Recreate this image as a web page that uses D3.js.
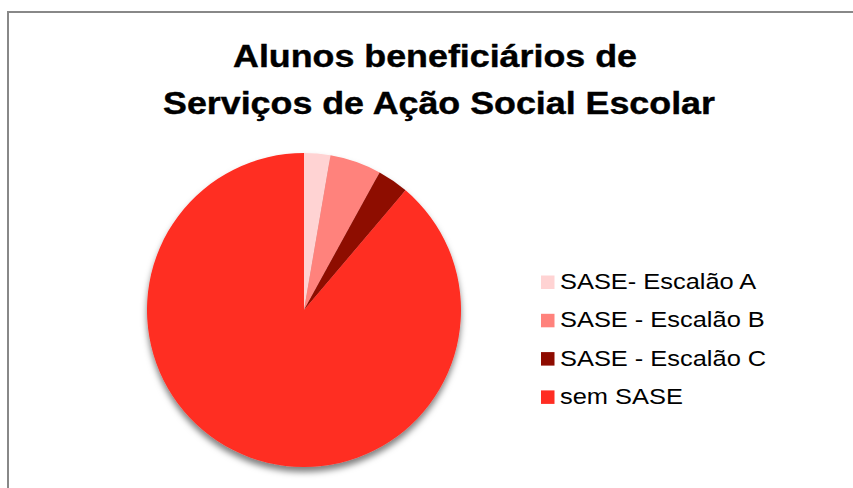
<!DOCTYPE html>
<html><head><meta charset="utf-8">
<script src="https://cdn.jsdelivr.net/npm/d3@7"></script>
<style>html,body{margin:0;padding:0;background:#fff;overflow:hidden}</style>
</head><body>
<svg id="c" width="853" height="488"></svg>
<script>
const categories = ["SASE- Escalão A", "SASE - Escalão B", "SASE - Escalão C", "sem SASE"];
const values = [2.7, 5.3, 3.2, 88.8];
const colors = ["#FFD3D3", "#FF827C", "#8E0B00", "#FF2D23"];
const titleLines = ["Alunos beneficiários de", "Serviços de Ação Social Escolar"];

const svg = d3.select("#c");
const font = "'Liberation Sans', Arial, Helvetica, sans-serif";
const stretch = 1.155;
function widen(sel) {
  sel.each(function () {
    const len = this.getComputedTextLength();
    d3.select(this).attr("textLength", len * stretch).attr("lengthAdjust", "spacingAndGlyphs");
  });
}

svg.append("rect").attr("x", 8).attr("y", 12).attr("width", 900).attr("height", 600)
  .attr("fill", "#fff").attr("stroke", "#888").attr("stroke-width", 2);

svg.append("g").selectAll("text").data(titleLines).join("text")
  .attr("text-anchor", "middle").attr("font-family", font)
  .attr("font-weight", "bold").attr("font-size", 31).attr("fill", "#000")
  .attr("stroke", "#000").attr("stroke-width", 0.4)
  .attr("x", (d, i) => i === 0 ? 435 : 439).attr("y", (d, i) => 67 + i * 47).text(d => d)
  .call(widen);

const defs = svg.append("defs");
const f = defs.append("filter").attr("id", "sh").attr("x", "-20%").attr("y", "-20%").attr("width", "140%").attr("height", "140%");
f.append("feDropShadow").attr("dx", 0).attr("dy", 5).attr("stdDeviation", 3)
  .attr("flood-color", "#000").attr("flood-opacity", 0.5);

const color = d3.scaleOrdinal().domain(categories).range(colors);
const pie = d3.pie().sort(null).value(d => d.v);
const arc = d3.arc().innerRadius(0).outerRadius(157);
const data = categories.map((c, i) => ({c, v: values[i]}));

const g = svg.append("g").attr("transform", "translate(304,310)").attr("filter", "url(#sh)");
g.selectAll("path").data(pie(data)).join("path")
  .attr("d", arc).attr("fill", d => color(d.data.c));

const leg = svg.append("g").attr("transform", "translate(541,289)");
const rows = leg.selectAll("g").data(categories).join("g")
  .attr("transform", (d, i) => `translate(0,${i * 38.3})`);
rows.append("rect").attr("x", 0).attr("y", -13.5).attr("width", 13.5).attr("height", 13.5)
  .attr("fill", d => color(d));
rows.append("text").attr("x", 19).attr("y", 0).attr("font-family", font)
  .attr("font-size", 22).attr("fill", "#000").text(d => d)
  .call(widen);
</script>
</body></html>
